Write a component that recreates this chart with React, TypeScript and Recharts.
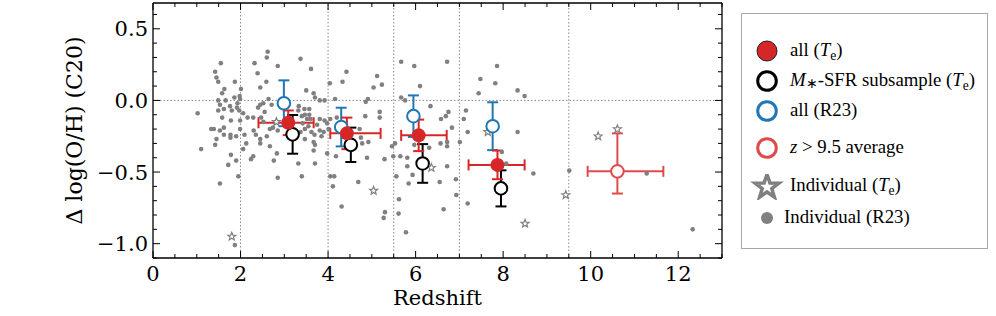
import { ScatterChart, Scatter, XAxis, YAxis, ErrorBar, ReferenceLine, Label } from 'recharts';

// axis ticks
const X_TICKS = [0, 0.5, 1, 1.5, 2, 2.5, 3, 3.5, 4, 4.5, 5, 5.5, 6, 6.5, 7, 7.5, 8, 8.5, 9, 9.5, 10, 10.5, 11, 11.5, 12, 12.5, 13];
const X_MAJOR = [0, 2, 4, 6, 8, 10, 12];
const Y_TICKS = [-1.1, -1.0, -0.9, -0.8, -0.7, -0.6, -0.5, -0.4, -0.3, -0.2, -0.1, 0.0, 0.1, 0.2, 0.3, 0.4, 0.5, 0.6];
const Y_MAJOR = [-1.0, -0.5, 0.0, 0.5];
const Y_LABELS = ['−1.0', '−0.5', '0.0', '0.5'];
const Z_BINS = [2, 4, 5.5, 7, 9.5];

// individual galaxies, R23 metallicities: [redshift, delta log(O/H)]
const r23Individual: [number, number][] = [
  [1.55, 0.26], [2.32, 0.26], [1.42, 0.2], [2.39, 0.19], [1.45, 0.16], [1.49, 0.13], [1.87, 0.13],
  [2.45, 0.09], [1.63, 0.08], [2.01, 0.08], [1.58, 0.05], [1.98, 0.03], [1.86, 0.02], [1.66, 0.0],
  [1.49, 0.0], [1.99, 0.01], [1.53, -0.03], [1.93, -0.02], [1.76, -0.04], [1.92, -0.05], [2.45, -0.03],
  [1.02, -0.09], [1.49, -0.07], [1.62, -0.06], [1.8, -0.07], [1.97, -0.07], [2.06, -0.09], [2.16, -0.12],
  [2.29, -0.12], [1.58, -0.12], [1.78, -0.14], [1.99, -0.14], [2.47, -0.12], [1.39, -0.2], [1.33, -0.2],
  [1.53, -0.21], [1.62, -0.19], [1.62, -0.24], [1.77, -0.24], [1.77, -0.26], [1.9, -0.25], [1.99, -0.2],
  [2.09, -0.24], [2.3, -0.21], [2.35, -0.24], [2.45, -0.27], [2.45, -0.3], [1.45, -0.27], [1.42, -0.31],
  [1.1, -0.34], [2.13, -0.3], [2.06, -0.34], [1.78, -0.38], [2.29, -0.39], [2.24, -0.41], [1.9, -0.42],
  [1.72, -0.45], [1.95, -0.53], [1.53, -0.58], [1.87, -1.01],
  [2.62, 0.34], [2.6, 0.3], [2.85, 0.24], [3.37, 0.29], [3.61, 0.22], [2.59, 0.13], [3.5, 0.07],
  [3.67, 0.05], [4.04, 0.12], [4.33, 0.13], [2.64, 0.01], [3.7, 0.02], [3.81, 0.0], [3.92, 0.0],
  [4.16, 0.01], [2.71, -0.03], [3.33, -0.04], [3.32, -0.07], [3.46, -0.06], [3.57, -0.06], [3.47, -0.1],
  [3.4, -0.11], [3.57, -0.1], [3.6, -0.13], [3.52, -0.13], [3.81, -0.13], [3.92, -0.14], [4.05, -0.13],
  [3.98, -0.16], [2.74, -0.19], [2.85, -0.21], [2.67, -0.2], [3.37, -0.22], [3.47, -0.2], [3.47, -0.27],
  [3.81, -0.21], [3.9, -0.22], [4.01, -0.2], [3.69, -0.24], [3.67, -0.29], [3.7, -0.31], [3.67, -0.35],
  [2.67, -0.32], [2.83, -0.37], [2.76, -0.42], [3.32, -0.44], [3.7, -0.44], [3.98, -0.37], [4.18, -0.39],
  [4.05, -0.53], [4.14, -0.53], [3.4, -0.53], [2.85, -0.54], [4.11, -0.6], [4.31, -0.74],
  [2.55, -0.08], [2.52, -0.15], [2.6, -0.25], [2.4, -0.05], [2.52, -0.02], [3.55, -0.18], [3.62, -0.22],
  [3.42, -0.16], [3.75, -0.17], [3.85, -0.25], [4.2, -0.12], [4.25, -0.22],
  [4.42, 0.2], [5.67, 0.27], [5.97, 0.24], [5.12, 0.17], [5.23, 0.11], [5.04, 0.09], [4.91, 0.01],
  [4.86, -0.01], [5.67, 0.02], [5.76, 0.0], [5.18, -0.08], [5.18, -0.12], [4.85, -0.11], [4.72, -0.2],
  [4.75, -0.26], [4.78, -0.3], [4.92, -0.29], [4.89, -0.4], [5.29, -0.41], [5.46, -0.32], [5.53, -0.3],
  [5.49, -0.39], [5.65, -0.39], [5.81, -0.4], [5.81, -0.46], [5.97, -0.31], [5.56, -0.53], [5.93, -0.52],
  [5.84, -0.58], [4.69, -0.57], [5.62, -0.69], [5.3, -0.78], [5.27, -0.82], [5.61, -0.79], [5.78, -0.92],
  [6.72, 0.27], [7.86, 0.24], [7.48, 0.15], [7.82, 0.12], [7.44, 0.05], [6.1, 0.1], [6.34, -0.04],
  [6.75, -0.08], [6.69, -0.11], [6.58, -0.13], [7.15, -0.07], [7.1, -0.13], [6.83, -0.19], [7.19, -0.22],
  [6.57, -0.3], [6.72, -0.29], [6.72, -0.32], [7.01, -0.29], [6.31, -0.33], [6.72, -0.46], [6.55, -0.57],
  [6.92, -0.55], [6.93, -0.66], [7.19, -0.72], [6.64, -0.76], [7.97, -0.36], [8.07, -0.44], [8.33, 0.07],
  [8.49, 0.03], [8.33, -0.22], [8.69, -0.51], [9.51, -0.49], [11.28, -0.51], [12.33, -0.9],
];

// individual galaxies, direct Te method
const teIndividual: [number, number][] = [
  [1.8, -0.95], [2.82, -0.15], [5.04, -0.63], [6.36, -0.47], [7.65, -0.22],
  [8.5, -0.86], [9.43, -0.66], [10.17, -0.25], [10.61, -0.2],
];

// binned averages
const teZ = [3.09, 4.43, 6.07, 7.87];
const teD = [-0.156, -0.23, -0.244, -0.45];
const teZErr = [[0.68, 0.58], [0.38, 0.77], [0.4, 0.64], [0.66, 0.62]];
const teDErr = [0.086, 0.11, 0.11, 0.1];

const subZ = [3.19, 4.52, 6.16, 7.95];
const subD = [-0.237, -0.31, -0.44, -0.614];
const subDErr = [0.135, 0.12, 0.135, 0.126];

const r23Z = [2.99, 4.3, 5.95, 7.76];
const r23D = [-0.02, -0.186, -0.11, -0.18];
const r23DErr = [0.16, 0.135, 0.145, 0.167];

const highZ = [10.61];
const highD = [-0.495];
const highZErr = [[0.68, 1.05]];
const highDErr = [[0.155, 0.265]];

const RED = '#d62728';
const BLUE = '#1f77b4';
const LIGHT_RED = '#e04a4a';
const GRAY = '#808080';
const TICK_FONT = '"DejaVu Serif", serif';

const dots = r23Individual.map(([z, d]) => ({ z, d }));
const stars = teIndividual.map(([z, d]) => ({ z, d }));
const teData = teZ.map((z, i) => ({ z, d: teD[i], zErr: teZErr[i], dErr: teDErr[i] }));
const subData = subZ.map((z, i) => ({ z, d: subD[i], dErr: subDErr[i] }));
const r23Data = r23Z.map((z, i) => ({ z, d: r23D[i], dErr: r23DErr[i] }));
const highData = highZ.map((z, i) => ({ z, d: highD[i], zErr: highZErr[i], dErr: highDErr[i] }));

function starPath(cx: number, cy: number, R: number, r: number) {
  let p = '';
  for (let i = 0; i < 10; i++) {
    const a = -Math.PI / 2 + (i * Math.PI) / 5;
    const rad = i % 2 === 0 ? R : r;
    p += (i === 0 ? 'M' : 'L') + (cx + rad * Math.cos(a)).toFixed(2) + ',' + (cy + rad * Math.sin(a)).toFixed(2);
  }
  return p + 'Z';
}

const dotShape = (p: any) => <circle cx={p.cx} cy={p.cy} r={2.3} fill={GRAY} />;
const starShape = (p: any) => (
  <path d={starPath(p.cx, p.cy, 4.2, 1.8)} fill="#fff" stroke={GRAY} strokeWidth={1.2} />
);
const openCircle = (color: string) => (p: any) => (
  <circle cx={p.cx} cy={p.cy} r={6.3} fill="#fff" stroke={color} strokeWidth={2} />
);
const filledCircle = (p: any) => <circle cx={p.cx} cy={p.cy} r={7} fill={RED} />;

function BottomTick({ x, y, payload }: any) {
  const major = X_MAJOR.includes(payload.value);
  return (
    <g>
      <line x1={x} x2={x} y1={y} y2={y - (major ? 7 : 4)} stroke="#000" />
      {major && (
        <text x={x} y={y + 22.5} textAnchor="middle" fontSize={21} fontFamily={TICK_FONT} fill="#000">
          {payload.value}
        </text>
      )}
    </g>
  );
}

function TopTick({ x, y, payload }: any) {
  const major = X_MAJOR.includes(payload.value);
  return <line x1={x} x2={x} y1={y} y2={y + (major ? 7 : 4)} stroke="#000" />;
}

function LeftTick({ x, y, payload }: any) {
  const idx = Y_MAJOR.indexOf(payload.value);
  return (
    <g>
      <line x1={x} x2={x + (idx >= 0 ? 7 : 4)} y1={y} y2={y} stroke="#000" />
      {idx >= 0 && (
        <text x={x - 5} y={y + 7.5} textAnchor="end" fontSize={21} fontFamily={TICK_FONT} fill="#000">
          {Y_LABELS[idx]}
        </text>
      )}
    </g>
  );
}

function RightTick({ x, y, payload }: any) {
  const major = Y_MAJOR.includes(payload.value);
  return <line x1={x} x2={x - (major ? 7 : 4)} y1={y} y2={y} stroke="#000" />;
}

const sub = { fontSize: '0.72em', verticalAlign: '-0.3em', lineHeight: 0 };

function LegendBox() {
  const rows = [
    { y: 37, x: 48, icon: <circle cx={25} cy={12} r={10} fill={RED} stroke="#222" strokeWidth={1} />, text: <>all (<i>T</i><span style={sub}>e</span>)</> },
    { y: 67, x: 48, icon: <circle cx={25} cy={12} r={9.3} fill="#fff" stroke="#000" strokeWidth={3} />, text: <><i>M</i><span style={{ ...sub, verticalAlign: '-0.15em' }}>∗</span>-SFR subsample (<i>T</i><span style={sub}>e</span>)</> },
    { y: 97, x: 48, icon: <circle cx={25} cy={12} r={9.3} fill="#fff" stroke={BLUE} strokeWidth={3} />, text: <>all (R23)</> },
    { y: 134, x: 48, icon: <circle cx={25} cy={12} r={9.3} fill="#fff" stroke={LIGHT_RED} strokeWidth={3} />, text: <><i>z</i> &gt; 9.5 average</> },
    { y: 172, x: 48, icon: <path d={starPath(25, 13, 12.5, 5)} fill="#fff" stroke={GRAY} strokeWidth={3.5} />, text: <>Individual (<i>T</i><span style={sub}>e</span>)</> },
    { y: 204, x: 42, icon: <circle cx={25} cy={12} r={6} fill={GRAY} />, text: <>Individual (R23)</> },
  ];
  return (
    <div
      style={{
        position: 'absolute',
        left: 741,
        top: 13,
        width: 245,
        height: 234,
        border: '1px solid #a8a8a8',
        background: '#fff',
        fontFamily: '"Liberation Serif", "Times New Roman", serif',
        fontSize: 18.8,
        color: '#000',
      }}
    >
      {rows.map((r, i) => (
        <div key={i}>
          <svg width={50} height={26} style={{ position: 'absolute', left: 0, top: r.y - 12 }}>
            {r.icon}
          </svg>
          <div style={{ position: 'absolute', left: r.x, top: r.y - 12, lineHeight: '22px', whiteSpace: 'nowrap' }}>
            {r.text}
          </div>
        </div>
      ))}
    </div>
  );
}

export default function App() {
  return (
    <div style={{ position: 'absolute', left: 0, top: 0, width: 996, height: 316, background: '#fff' }}>
      <ScatterChart width={996} height={316} margin={{ top: 2, right: 273, bottom: 28, left: 0 }}>
        <XAxis
          xAxisId="b"
          type="number"
          dataKey="z"
          domain={[0, 13]}
          ticks={X_TICKS}
          interval={0}
          tick={BottomTick}
          tickLine={false}
          tickSize={0}
          tickMargin={0}
          height={30}
          allowDataOverflow
          axisLine={{ stroke: '#000', strokeWidth: 1.3 }}
        >
          <Label value="Redshift" position="bottom" offset={2} fontSize={21} fontFamily={TICK_FONT} fill="#000" />
        </XAxis>
        <XAxis
          xAxisId="t"
          orientation="top"
          type="number"
          dataKey="z"
          domain={[0, 13]}
          ticks={X_TICKS}
          interval={0}
          tick={TopTick}
          tickLine={false}
          tickSize={0}
          tickMargin={0}
          height={1}
          allowDataOverflow
          axisLine={{ stroke: '#000', strokeWidth: 1.3 }}
        />
        <YAxis
          yAxisId="l"
          type="number"
          dataKey="d"
          domain={[-1.1, 0.68]}
          ticks={Y_TICKS}
          interval={0}
          tick={LeftTick}
          tickLine={false}
          tickSize={0}
          tickMargin={0}
          width={153}
          allowDataOverflow
          axisLine={{ stroke: '#000', strokeWidth: 1.3 }}
        >
          <Label value="Δ log(O/H) (C20)" angle={-90} position="center" dx={-2} fontSize={22} fontFamily={TICK_FONT} fill="#000" />
        </YAxis>
        <YAxis
          yAxisId="r"
          orientation="right"
          type="number"
          dataKey="d"
          domain={[-1.1, 0.68]}
          ticks={Y_TICKS}
          interval={0}
          tick={RightTick}
          tickLine={false}
          tickSize={0}
          tickMargin={0}
          width={1}
          allowDataOverflow
          axisLine={{ stroke: '#000', strokeWidth: 1.3 }}
        />

        {Z_BINS.map((z) => (
          <ReferenceLine key={z} x={z} xAxisId="b" yAxisId="l" stroke="#8a8a8a" strokeDasharray="1.5 2" />
        ))}
        <ReferenceLine y={0} xAxisId="b" yAxisId="l" stroke="#8a8a8a" strokeDasharray="1.5 2" />

        <Scatter data={dots} xAxisId="t" yAxisId="r" shape={dotShape} isAnimationActive={false} />
        <Scatter data={stars} xAxisId="t" yAxisId="r" shape={starShape} isAnimationActive={false} />

        <Scatter data={r23Data} xAxisId="b" yAxisId="l" shape={openCircle(BLUE)} isAnimationActive={false}>
          <ErrorBar dataKey="dErr" direction="y" stroke={BLUE} strokeWidth={2} width={5.5} isAnimationActive={false} />
        </Scatter>
        <Scatter data={subData} xAxisId="b" yAxisId="l" shape={openCircle('#000')} isAnimationActive={false}>
          <ErrorBar dataKey="dErr" direction="y" stroke="#000" strokeWidth={2} width={5.5} isAnimationActive={false} />
        </Scatter>
        <Scatter data={teData} xAxisId="b" yAxisId="l" shape={filledCircle} isAnimationActive={false}>
          <ErrorBar dataKey="zErr" direction="x" stroke={RED} strokeWidth={2} width={5.5} isAnimationActive={false} />
          <ErrorBar dataKey="dErr" direction="y" stroke={RED} strokeWidth={2} width={5.5} isAnimationActive={false} />
        </Scatter>
        <Scatter data={highData} xAxisId="b" yAxisId="l" shape={openCircle(LIGHT_RED)} isAnimationActive={false}>
          <ErrorBar dataKey="zErr" direction="x" stroke={LIGHT_RED} strokeWidth={2} width={5.5} isAnimationActive={false} />
          <ErrorBar dataKey="dErr" direction="y" stroke={LIGHT_RED} strokeWidth={2} width={5.5} isAnimationActive={false} />
        </Scatter>
      </ScatterChart>
      <LegendBox />
    </div>
  );
}
